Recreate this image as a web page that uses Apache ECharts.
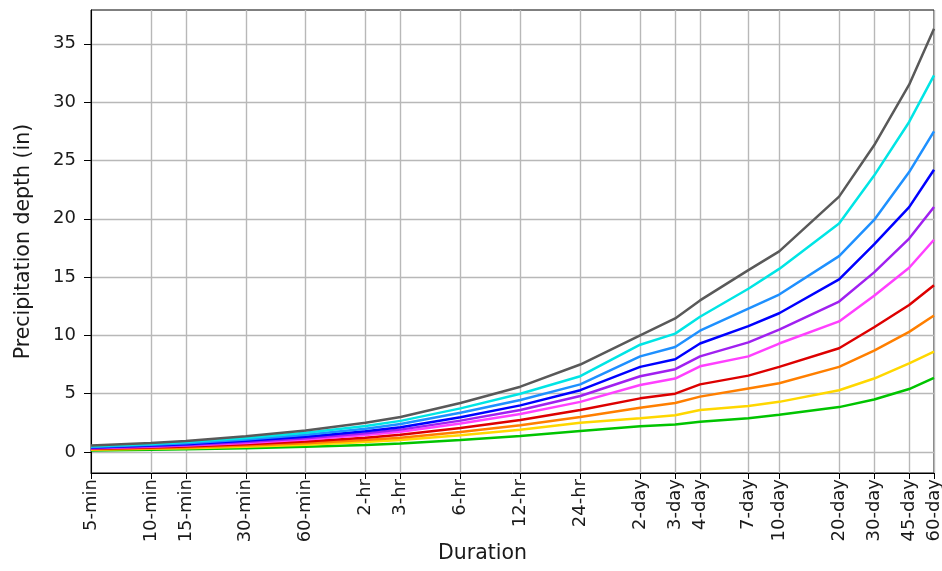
<!DOCTYPE html>
<html>
<head>
<meta charset="utf-8">
<script src="https://cdn.jsdelivr.net/npm/echarts@6/dist/echarts.min.js"></script>
<style>
  html, body { margin: 0; padding: 0; background: #ffffff; }
  #chart { width: 942px; height: 571px; }
</style>
</head>
<body>
<div id="chart"></div>
<script>
// Durations in minutes and their axis labels
const durations = [5, 10, 15, 30, 60, 120, 180, 360, 720, 1440, 2880, 4320, 5760, 10080, 14400, 28800, 43200, 64800, 86400];
const durationLabels = ['5-min', '10-min', '15-min', '30-min', '60-min', '2-hr', '3-hr', '6-hr', '12-hr', '24-hr',
  '2-day', '3-day', '4-day', '7-day', '10-day', '20-day', '30-day', '45-day', '60-day'];

// Precipitation depth (in), one curve per frequency, lowest to highest
const depthGreen   = [0.13, 0.19, 0.23, 0.33, 0.45, 0.61, 0.74, 1.03, 1.37, 1.80, 2.20, 2.35, 2.60, 2.90, 3.20, 3.85, 4.50, 5.40, 6.35];
const depthGold    = [0.19, 0.27, 0.32, 0.46, 0.63, 0.85, 1.02, 1.43, 1.90, 2.50, 2.90, 3.15, 3.60, 3.95, 4.30, 5.30, 6.30, 7.60, 8.60];
const depthOrange  = [0.23, 0.32, 0.39, 0.55, 0.76, 1.03, 1.23, 1.72, 2.30, 3.00, 3.80, 4.20, 4.75, 5.45, 5.90, 7.30, 8.70, 10.3, 11.7];
const depthRed     = [0.27, 0.38, 0.47, 0.66, 0.91, 1.23, 1.47, 2.06, 2.75, 3.60, 4.60, 5.00, 5.80, 6.55, 7.30, 8.90, 10.7, 12.6, 14.3];
const depthMagenta = [0.32, 0.45, 0.55, 0.78, 1.07, 1.45, 1.74, 2.44, 3.26, 4.30, 5.75, 6.30, 7.35, 8.20, 9.30, 11.2, 13.4, 15.8, 18.2];
const depthPurple  = [0.35, 0.50, 0.61, 0.86, 1.18, 1.60, 1.92, 2.69, 3.60, 4.80, 6.50, 7.10, 8.20, 9.40, 10.5, 12.9, 15.4, 18.3, 21.0];
const depthBlue    = [0.39, 0.55, 0.67, 0.96, 1.31, 1.78, 2.13, 2.98, 4.00, 5.30, 7.30, 7.95, 9.30, 10.8, 11.9, 14.8, 17.8, 21.0, 24.2];
const depthDodger  = [0.44, 0.62, 0.76, 1.08, 1.48, 2.00, 2.40, 3.36, 4.46, 5.80, 8.20, 9.00, 10.4, 12.3, 13.5, 16.8, 19.9, 24.0, 27.5];
const depthCyan    = [0.49, 0.69, 0.85, 1.20, 1.65, 2.23, 2.67, 3.74, 5.00, 6.50, 9.20, 10.15, 11.6, 14.0, 15.7, 19.6, 23.7, 28.3, 32.3];
const depthGray    = [0.55, 0.78, 0.95, 1.35, 1.85, 2.50, 3.00, 4.20, 5.60, 7.50, 10.0, 11.45, 13.0, 15.6, 17.2, 21.9, 26.3, 31.5, 36.3];

const yTicks = [0, 5, 10, 15, 20, 25, 30, 35];

const curves = [
  { values: depthGreen,   color: '#00c400' },
  { values: depthGold,    color: '#ffd700' },
  { values: depthOrange,  color: '#ff7f00' },
  { values: depthRed,     color: '#dd0000' },
  { values: depthMagenta, color: '#ff40ff' },
  { values: depthPurple,  color: '#a020f0' },
  { values: depthBlue,    color: '#0000ff' },
  { values: depthDodger,  color: '#1e90ff' },
  { values: depthCyan,    color: '#00e5e5' },
  { values: depthGray,    color: '#595959' }
];

const labelFor = {};
durations.forEach((d, i) => { labelFor[d] = durationLabels[i]; });

const font = 'DejaVu Sans';
const textColor = '#1a1a1a';
const gridLine = { show: true, lineStyle: { color: '#b8b8b8', width: 1.4 } };

const chart = echarts.init(document.getElementById('chart'), null, { renderer: 'canvas' });
chart.setOption({
  animation: false,
  backgroundColor: '#ffffff',
  grid: {
    left: 91, right: 8, top: 10, bottom: 98,
    containLabel: false,
    outerBoundsMode: 'none',
    show: true, borderColor: '#000000', borderWidth: 1, backgroundColor: 'transparent'
  },
  xAxis: {
    type: 'log',
    logBase: 10,
    min: durations[0],
    max: durations[durations.length - 1],
    name: 'Duration',
    nameLocation: 'middle',
    nameGap: 70,
    nameMoveOverlap: false,
    nameTextStyle: { fontFamily: font, fontSize: 20.5, color: textColor, padding: [0, 60, 0, 0] },
    axisLine: { show: true, onZero: false, lineStyle: { color: '#000000', width: 1 } },
    axisTick: { show: true, length: 6, inside: false, customValues: durations, lineStyle: { color: '#000000', width: 1 } },
    axisLabel: {
      show: true,
      rotate: 90,
      margin: 6,
      customValues: durations,
      formatter: v => labelFor[v] || '',
      fontFamily: font, fontSize: 18, color: textColor
    },
    splitLine: gridLine,
    minorTick: { show: false },
    minorSplitLine: { show: false }
  },
  yAxis: {
    type: 'value',
    min: -1.8,
    max: 37.9,
    name: 'Precipitation depth (in)',
    nameLocation: 'middle',
    nameGap: 57,
    nameMoveOverlap: false,
    nameTextStyle: { fontFamily: font, fontSize: 20.5, color: textColor },
    axisLine: { show: true, onZero: false, lineStyle: { color: '#000000', width: 1 } },
    axisTick: { show: true, length: 7, inside: false, customValues: yTicks, lineStyle: { color: '#000000', width: 1 } },
    axisLabel: {
      show: true, margin: 15, customValues: yTicks,
      fontFamily: font, fontSize: 18, color: textColor
    },
    splitLine: gridLine
  },
  series: curves.map(c => ({
    type: 'line',
    data: durations.map((d, i) => [d, c.values[i]]),
    showSymbol: false,
    symbol: 'none',
    smooth: false,
    lineStyle: { color: c.color, width: 2.5 },
    itemStyle: { color: c.color },
    clip: true
  }))
});
</script>
</body>
</html>
